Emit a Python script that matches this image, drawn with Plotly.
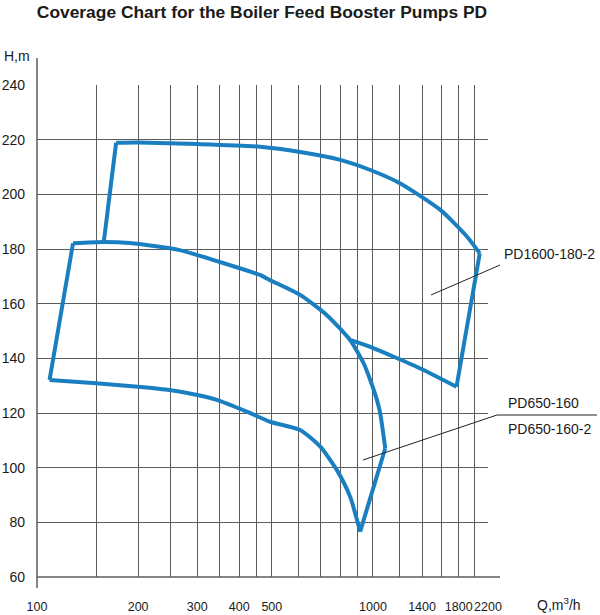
import math
import plotly.graph_objects as go

# ---- data ----  Q in m3/h, H in m
# PD650-160 / PD650-160-2 zone outline
pd650_top_q = [128, 158, 189, 266, 375, 461, 494, 607, 729, 855, 938, 982, 1028, 1051, 1088]
pd650_top_h = [182.1, 182.6, 182.2, 179.6, 174.1, 170.5, 168.6, 163.2, 155.8, 146.7, 138.2, 132.0, 124.7, 119.9, 107.1]
pd650_right_q = [1088, 916]
pd650_right_h = [107.1, 76.6]
pd650_bottom_q = [916, 855, 781, 697, 607, 494, 421, 343, 300, 248, 200, 150, 109]
pd650_bottom_h = [76.6, 89.4, 99.1, 107.7, 113.8, 116.8, 120.5, 124.8, 126.6, 128.4, 129.6, 130.9, 132.1]
pd650_left_q = [109, 128]
pd650_left_h = [132.1, 182.1]

# PD1600-180-2 zone outline (visible part, ends on the PD650 outline)
pd1600_left_q = [158, 172]
pd1600_left_h = [182.6, 218.9]
pd1600_top_q = [172, 200, 300, 461, 607, 799, 982, 1206, 1587, 1906, 2079]
pd1600_top_h = [218.9, 219.0, 218.4, 217.4, 215.5, 212.6, 208.9, 204.0, 194.3, 184.5, 178.4]
pd1600_right_q = [2079, 1773]
pd1600_right_h = [178.4, 129.6]
pd1600_bottom_q = [1773, 1384, 1152, 982, 860]
pd1600_bottom_h = [129.6, 136.3, 140.6, 144.2, 146.7]

x_labeled = [100, 200, 300, 400, 500, 1000, 1400, 1800, 2200]
x_minor_grid = [150, 250, 350, 450, 600, 700, 800, 900, 1200, 1600, 2000]
y_ticks = [60, 80, 100, 120, 140, 160, 180, 200, 220, 240]

title = "Coverage Chart for the Boiler Feed Booster Pumps PD"
zone_labels = ["PD1600-180-2", "PD650-160", "PD650-160-2"]

# ---- styling ----
W, H = 600, 615
ML, MR, MT, MB = 37, 112, 85, 38
BLUE = "#1a7fc1"
GRID = "#5c5c5c"
FONT = "Liberation Sans, Arial, sans-serif"

def px(x):  # canvas pixel -> paper x
    return (x - ML) / (W - ML - MR)

def py(y):  # canvas pixel -> paper y
    return (H - MB - y) / (H - MT - MB)

fig = go.Figure()
segments = [
    (pd650_top_q, pd650_top_h, "spline"),
    (pd650_right_q, pd650_right_h, "linear"),
    (pd650_bottom_q, pd650_bottom_h, "spline"),
    (pd650_left_q, pd650_left_h, "linear"),
    (pd1600_left_q, pd1600_left_h, "linear"),
    (pd1600_top_q, pd1600_top_h, "spline"),
    (pd1600_right_q, pd1600_right_h, "linear"),
    (pd1600_bottom_q, pd1600_bottom_h, "spline"),
]
for xs, ys, shp in segments:
    line = dict(color=BLUE, width=4, shape=shp)
    if shp == "spline":
        line["smoothing"] = 0.6
    fig.add_trace(go.Scatter(x=xs, y=ys, mode="lines", line=line,
                             hoverinfo="skip", showlegend=False))

fig.update_layout(
    width=W, height=H,
    margin=dict(l=ML, r=MR, t=MT, b=MB, pad=0, autoexpand=False),
    paper_bgcolor="white", plot_bgcolor="white",
    font=dict(family=FONT, size=14, color="#1a1a1a"),
    showlegend=False,
    title=dict(text="<b>" + title + "</b>", xref="container", x=262 / W, xanchor="center",
               yref="container", y=1 - 12 / H, yanchor="middle",
               font=dict(family=FONT, size=17.4, color="#1a1a1a")),
    xaxis=dict(type="log", range=[2, math.log10(2200)], automargin=False,
               tickmode="array", tickvals=x_labeled,
               ticktext=[str(v) for v in x_labeled], tickangle=0,
               showgrid=True, gridcolor=GRID, gridwidth=1,
               minor=dict(tickmode="array", tickvals=x_minor_grid, showgrid=True,
                          gridcolor=GRID, gridwidth=1, ticks=""),
               ticks="", ticklabelstandoff=20, zeroline=False, showline=False,
               tickfont=dict(size=12.5)),
    yaxis=dict(range=[60, 240], tickvals=y_ticks, automargin=False,
               showgrid=True, gridcolor=GRID, gridwidth=1,
               ticks="", ticklabelstandoff=11, zeroline=False, showline=False,
               tickfont=dict(size=14)),
)

shapes = [
    # left axis line extends above and below the grid
    dict(type="line", xref="paper", yref="paper", x0=0, x1=0, y0=py(588), y1=py(58),
         line=dict(color=GRID, width=1.5)),
    # bottom axis line extends slightly past the last grid line
    dict(type="line", xref="paper", yref="paper", x0=0, x1=px(500), y0=0, y1=0,
         line=dict(color=GRID, width=1.5)),
    # leader lines
    dict(type="line", xref="paper", yref="paper", x0=px(431), y0=py(295), x1=px(500), y1=py(265),
         line=dict(color="#222222", width=1)),
    dict(type="line", xref="paper", yref="paper", x0=px(363), y0=py(460), x1=px(497), y1=py(415),
         line=dict(color="#222222", width=1)),
    dict(type="line", xref="paper", yref="paper", x0=px(497), y0=py(415), x1=px(597), y1=py(415),
         line=dict(color="#222222", width=1)),
]
fig.update_layout(shapes=shapes)

ann = [
    dict(text="H,m", x=px(2), y=py(56), xanchor="left", yanchor="middle"),
    dict(text="Q,m<sup>3</sup>/h", x=px(535), y=py(604), xanchor="left", yanchor="middle"),
    dict(text=zone_labels[0], x=px(502), y=py(254), xanchor="left", yanchor="middle", font=dict(size=14)),
    dict(text=zone_labels[1], x=px(506), y=py(403), xanchor="left", yanchor="middle", font=dict(size=14)),
    dict(text=zone_labels[2], x=px(506), y=py(429), xanchor="left", yanchor="middle", font=dict(size=14)),
]
for a in ann:
    a.update(xref="paper", yref="paper", showarrow=False)
    a.setdefault("font", dict(size=14))
fig.update_layout(annotations=ann)

fig.write_html("out.html", config={"displayModeBar": False},
               post_script="document.body.style.margin='0';")
